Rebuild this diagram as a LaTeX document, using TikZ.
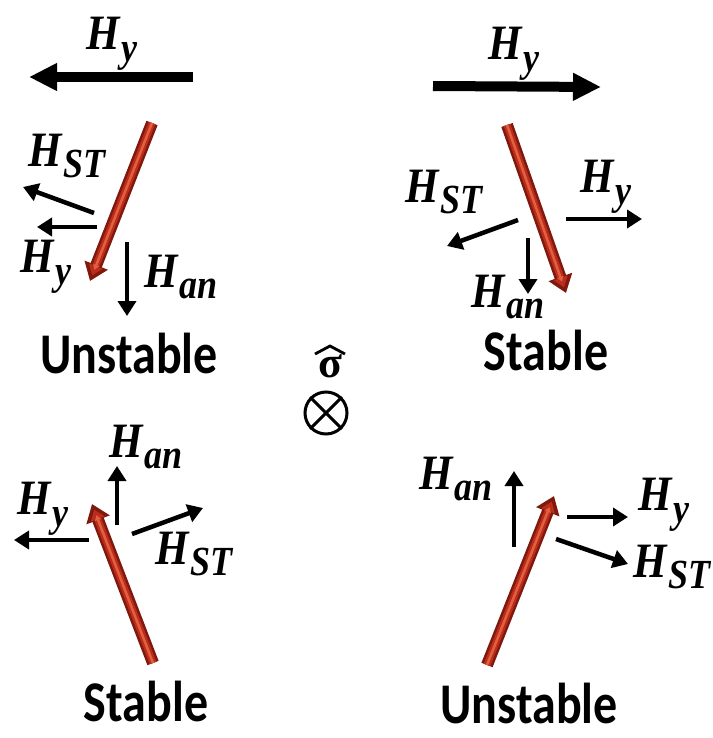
\documentclass[tikz,border=0pt]{standalone}
\usepackage{fontspec}
\setmainfont{Liberation Serif}
\newfontfamily\sansb{Carlito}
\usetikzlibrary{arrows.meta}
\definecolor{rodd}{RGB}{128,24,14}
\definecolor{rodm}{RGB}{185,45,28}
\definecolor{rodl}{RGB}{228,95,62}
\newcommand\Hlab[1]{\scalebox{1}[1.15]{\fontsize{43}{43}\selectfont\bfseries\itshape H\kern1.5pt\raisebox{-10pt}{\fontsize{36}{36}\selectfont #1}}}
\newcommand\State[1]{\scalebox{1}[1.2]{#1}}
\begin{document}
\begin{tikzpicture}[x=1pt,y=-1pt,
  bigarr/.style={line width=10pt,-{Triangle[length=28pt,width=26pt]}},
  smallarr/.style={line width=4.5pt,-{Triangle[length=15pt,width=18pt]}},
  rodout/.style={line width=12pt,draw=rodd,-{Triangle[length=17pt,width=24pt]}},
  rodmid/.style={line width=7pt,draw=rodm,shorten >=6pt,-{Triangle[length=10pt,width=14pt]}},
  rodin/.style={line width=2.5pt,draw=rodl,shorten >=12pt,-{Triangle[length=5pt,width=6pt]}},
  lab/.style={inner sep=0pt,anchor=center},
  state/.style={inner sep=0pt,anchor=base,font=\sansb\bfseries\fontsize{48}{48}\selectfont}]
\useasboundingbox (0,0) rectangle (712,738);
% ---------- panel 1 (top-left) ----------
\coordinate (a1s) at (193,77); \coordinate (a1e) at (29,77);
\draw[bigarr] (a1s) -- (a1e);
\node[lab] (l1y) at (112,44) {\Hlab{y}};
\coordinate (r1s) at (152,123); \coordinate (r1e) at (90,281);
\draw[rodout] (r1s) -- (r1e); \draw[rodmid] (r1s) -- (r1e); \draw[rodin] (r1s) -- (r1e);
\coordinate (s1s) at (94,213); \coordinate (s1e) at (23,187);
\draw[smallarr] (s1s) -- (s1e);
\node[lab] (l1st) at (67,156) {\Hlab{ST}};
\coordinate (y1s) at (97,227); \coordinate (y1e) at (37,227);
\draw[smallarr] (y1s) -- (y1e);
\node[lab] (l1yy) at (46,267) {\Hlab{y}};
\coordinate (n1s) at (127,242); \coordinate (n1e) at (127,316);
\draw[smallarr] (n1s) -- (n1e);
\node[lab] (l1an) at (181,277) {\Hlab{an}};
\node[state] (t1) at (129,373) {\State{Unstable}};
% ---------- panel 2 (top-right) ----------
\coordinate (a2s) at (433,86); \coordinate (a2e) at (601,87);
\draw[bigarr] (a2s) -- (a2e);
\node[lab] (l2y) at (514,54) {\Hlab{y}};
\coordinate (r2s) at (507,125); \coordinate (r2e) at (566,293);
\draw[rodout] (r2s) -- (r2e); \draw[rodmid] (r2s) -- (r2e); \draw[rodin] (r2s) -- (r2e);
\coordinate (s2s) at (518,220); \coordinate (s2e) at (447,246);
\draw[smallarr] (s2s) -- (s2e);
\node[lab] (l2st) at (444,192) {\Hlab{ST}};
\coordinate (y2s) at (566,219); \coordinate (y2e) at (642,219);
\draw[smallarr] (y2s) -- (y2e);
\node[lab] (l2y2) at (606,187) {\Hlab{y}};
\coordinate (n2s) at (528,238); \coordinate (n2e) at (528,294);
\draw[smallarr] (n2s) -- (n2e);
\node[lab] (l2an) at (508,297) {\Hlab{an}};
\node[state] (t2) at (546,370) {\State{Stable}};
% ---------- centre ----------
\node[inner sep=0pt,anchor=base,font=\fontsize{44}{44}\selectfont\bfseries] (sig) at (330,377) {σ};
\draw[line width=2.8pt] (315,354) -- (330,346) -- (345,354);
\node[circle,draw,line width=3pt,minimum size=42pt,inner sep=0pt] (ot) at (326,413) {};
\draw[line width=3pt] (ot.north east) -- (ot.south west) (ot.north west) -- (ot.south east);
% ---------- panel 3 (bottom-left) ----------
\coordinate (r3s) at (153,663); \coordinate (r3e) at (92,504);
\draw[rodout] (r3s) -- (r3e); \draw[rodmid] (r3s) -- (r3e); \draw[rodin] (r3s) -- (r3e);
\coordinate (n3s) at (117,525); \coordinate (n3e) at (117,466);
\draw[smallarr] (n3s) -- (n3e);
\node[lab] (l3an) at (146,447) {\Hlab{an}};
\coordinate (y3s) at (89,540); \coordinate (y3e) at (14,540);
\draw[smallarr] (y3s) -- (y3e);
\node[lab] (l3y) at (43,509) {\Hlab{y}};
\coordinate (s3s) at (132,534); \coordinate (s3e) at (203,508);
\draw[smallarr] (s3s) -- (s3e);
\node[lab] (l3st) at (194,554) {\Hlab{ST}};
\node[state] (t3) at (146,721) {\State{Stable}};
% ---------- panel 4 (bottom-right) ----------
\coordinate (r4s) at (487,665); \coordinate (r4e) at (554,496);
\draw[rodout] (r4s) -- (r4e); \draw[rodmid] (r4s) -- (r4e); \draw[rodin] (r4s) -- (r4e);
\coordinate (n4s) at (514,547); \coordinate (n4e) at (514,471);
\draw[smallarr] (n4s) -- (n4e);
\node[lab] (l4an) at (456,479) {\Hlab{an}};
\coordinate (y4s) at (567,517); \coordinate (y4e) at (628,517);
\draw[smallarr] (y4s) -- (y4e);
\node[lab] (l4y) at (664,505) {\Hlab{y}};
\coordinate (s4s) at (556,539); \coordinate (s4e) at (628,564);
\draw[smallarr] (s4s) -- (s4e);
\node[lab] (l4st) at (672,567) {\Hlab{ST}};
\node[state] (t4) at (529,723) {\State{Unstable}};
\end{tikzpicture}
\end{document}
